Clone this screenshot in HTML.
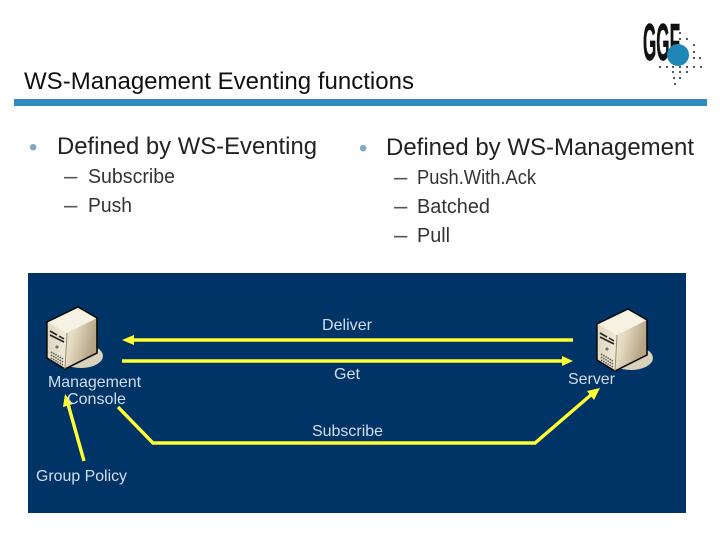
<!DOCTYPE html>
<html><head><meta charset="utf-8"><style>
html,body{margin:0;padding:0;background:#fff}
body{width:720px;height:540px;overflow:hidden;position:relative}
svg{position:absolute;left:0;top:0}
text{font-family:"Liberation Sans",sans-serif}
</style></head><body>
<svg width="720" height="540" viewBox="0 0 720 540" xmlns="http://www.w3.org/2000/svg">
<defs>
<linearGradient id="r" x1="0" y1="0" x2="1" y2="0.3"><stop offset="0" stop-color="#f6f1e2"/><stop offset="0.6" stop-color="#e6dcc4"/><stop offset="1" stop-color="#b5a586"/></linearGradient>
<linearGradient id="l" x1="0" y1="0" x2="1" y2="0"><stop offset="0" stop-color="#ded6c0"/><stop offset="1" stop-color="#f0ead8"/></linearGradient>
<g id="srv">
<ellipse cx="38" cy="50" rx="22" ry="12" fill="#d8d2bb"/>
<polygon points="4,16 35,1 54,12 54,47 22,63 4,52" fill="url(#r)" stroke="#0a0a0a" stroke-width="1.4" stroke-linejoin="round"/>
<polygon points="4,16 35,1 54,12 24,27" fill="#f5f1e3"/>
<polygon points="4,16 24,27 22,63 4,52" fill="url(#l)"/>
<polygon points="4,16 35,1 54,12 54,47 22,63 4,52" fill="none" stroke="#0a0a0a" stroke-width="1.4" stroke-linejoin="round"/>
<path d="M24,27 L22,63" stroke="#9a8d72" stroke-width="1"/>
<path d="M7,25 L14,29 M16,30 L21,33 M7,29 L21,36" stroke="#222" stroke-width="1.6"/>
<path d="M8,46 L20,53 M8,49 L20,56 M8,52 L20,59" stroke="#555" stroke-width="1.5" stroke-dasharray="1.5 1"/>
<circle cx="14" cy="41" r="1.6" fill="#687a6c"/>
</g>
</defs>
<text x="24" y="89" font-size="24" fill="#111" textLength="390" lengthAdjust="spacingAndGlyphs">WS-Management Eventing functions</text>
<rect x="14" y="99" width="693" height="7" fill="#2e8cc0"/>
<!-- logo -->
<text x="643" y="60" font-size="52" font-weight="bold" fill="#111" stroke="#111" stroke-width="0.8" textLength="37" lengthAdjust="spacingAndGlyphs">GGF</text>
<circle cx="678" cy="55" r="11" fill="#1f87b5"/>
<g fill="#222">
<circle cx="680" cy="33" r="1"/><circle cx="680" cy="39" r="1"/><circle cx="687" cy="39" r="1"/><circle cx="694" cy="45" r="1"/><circle cx="694" cy="52" r="1"/><circle cx="694" cy="58" r="1"/><circle cx="700" cy="58" r="1"/><circle cx="701" cy="67" r="1"/>
<circle cx="660" cy="67" r="1"/><circle cx="667" cy="67" r="1"/><circle cx="673" cy="67" r="1"/><circle cx="680" cy="67" r="1"/><circle cx="687" cy="67" r="1"/><circle cx="694" cy="67" r="1"/>
<circle cx="673" cy="72" r="1"/><circle cx="680" cy="72" r="1"/><circle cx="687" cy="72" r="1"/><circle cx="674" cy="78" r="1"/><circle cx="680" cy="78" r="1"/><circle cx="675" cy="84" r="1"/>
</g>
<!-- bullets left -->
<text x="29" y="155" font-size="24" fill="#7fa9c4">•</text>
<text x="57" y="154" font-size="24" fill="#222" textLength="260" lengthAdjust="spacingAndGlyphs">Defined by WS-Eventing</text>
<text x="64" y="184" font-size="24" fill="#555">–</text>
<text x="88" y="183" font-size="20" fill="#333" textLength="87" lengthAdjust="spacingAndGlyphs">Subscribe</text>
<text x="64" y="213" font-size="24" fill="#555">–</text>
<text x="88" y="212" font-size="20" fill="#333" textLength="44" lengthAdjust="spacingAndGlyphs">Push</text>
<!-- bullets right -->
<text x="359" y="156" font-size="24" fill="#7fa9c4">•</text>
<text x="386" y="155" font-size="24" fill="#222" textLength="308" lengthAdjust="spacingAndGlyphs">Defined by WS-Management</text>
<text x="394" y="185" font-size="24" fill="#555">–</text>
<text x="417" y="184" font-size="20" fill="#333" textLength="119" lengthAdjust="spacingAndGlyphs">Push.With.Ack</text>
<text x="394" y="214" font-size="24" fill="#555">–</text>
<text x="417" y="213" font-size="20" fill="#333" textLength="73" lengthAdjust="spacingAndGlyphs">Batched</text>
<text x="394" y="243" font-size="24" fill="#555">–</text>
<text x="417" y="242" font-size="20" fill="#333" textLength="33" lengthAdjust="spacingAndGlyphs">Pull</text>
<!-- panel -->
<rect x="28" y="273" width="658" height="240" fill="#003366"/>
<use href="#srv" x="43" y="306"/>
<use href="#srv" x="593" y="308"/>
<g stroke="#ffff33" stroke-width="3.4" fill="none">
<path d="M132,340 H573"/>
<path d="M122,361 H563"/>
<path d="M118,407 L153,443 H535 L592,394"/>
<path d="M84,461 L68,404"/>
</g>
<g fill="#ffff33">
<polygon points="122,340 134,335 134,345"/>
<polygon points="573,361 562,356 562,366"/>
<polygon points="600,388 587,391 594,400"/>
<polygon points="65,394 63,407 73,404"/>
</g>
<g font-size="16" fill="#d3deea">
<text x="347" y="330" text-anchor="middle" textLength="50" lengthAdjust="spacingAndGlyphs">Deliver</text>
<text x="347" y="379" text-anchor="middle" textLength="26" lengthAdjust="spacingAndGlyphs">Get</text>
<text x="347.5" y="436" text-anchor="middle" textLength="71" lengthAdjust="spacingAndGlyphs">Subscribe</text>
<text x="94.5" y="387" text-anchor="middle" textLength="93" lengthAdjust="spacingAndGlyphs">Management</text>
<text x="96.5" y="404" text-anchor="middle" textLength="59" lengthAdjust="spacingAndGlyphs">Console</text>
<text x="81.5" y="481" text-anchor="middle" textLength="91" lengthAdjust="spacingAndGlyphs">Group Policy</text>
<text x="591.5" y="384" text-anchor="middle" textLength="47" lengthAdjust="spacingAndGlyphs">Server</text>
</g>
</svg>
</body></html>
